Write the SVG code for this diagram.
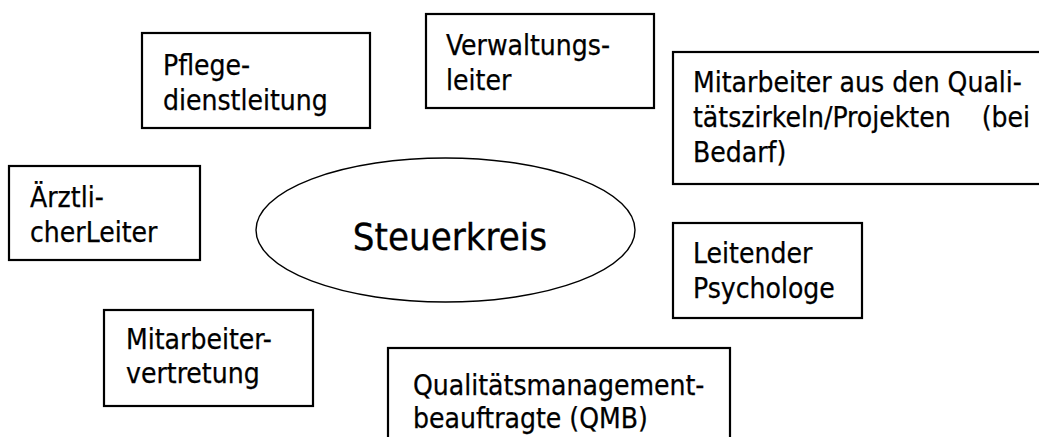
<svg xmlns="http://www.w3.org/2000/svg" width="1039" height="437" viewBox="0 0 1039 437">
<style>
.box{fill:#fff;stroke:#000;stroke-width:2.2}
.ell{fill:#fff;stroke:#000;stroke-width:1.4}
text{font-family:"DejaVu Sans Condensed","DejaVu Sans",sans-serif;font-stretch:condensed;font-size:28px;fill:#000;stroke:#000;stroke-width:0.25}
.big{font-size:38px;text-anchor:middle;stroke-width:0.3}
</style>
<rect width="1039" height="437" fill="#fff"/>
<g id="connectors"></g>
<g id="pflege">
<rect class="box" x="142" y="33" width="228" height="95"/>
<text x="163" y="75">Pflege-</text>
<text x="163" y="110">dienstleitung</text>
</g>
<g id="verwaltung">
<rect class="box" x="426" y="14" width="228" height="94"/>
<text x="446" y="55">Verwaltungs-</text>
<text x="446" y="90">leiter</text>
</g>
<g id="qualitaetszirkel">
<rect class="box" x="673" y="52" width="370" height="132"/>
<text x="693" y="92">Mitarbeiter aus den Quali-</text>
<text x="693" y="127">tätszirkeln/Projekten</text>
<text x="1030" y="127" text-anchor="end">(bei</text>
<text x="693" y="162">Bedarf)</text>
</g>
<g id="arzt">
<rect class="box" x="9" y="166" width="191" height="94"/>
<text x="30" y="207">Ärztli-</text>
<text x="30" y="242">cherLeiter</text>
</g>
<g id="steuerkreis">
<ellipse class="ell" cx="445.5" cy="230" rx="189.5" ry="72"/>
<text class="big" x="450" y="250">Steuerkreis</text>
</g>
<g id="psychologe">
<rect class="box" x="673" y="223" width="189" height="95"/>
<text x="693" y="263">Leitender</text>
<text x="693" y="298">Psychologe</text>
</g>
<g id="mitarbeitervertretung">
<rect class="box" x="104" y="310" width="209" height="96"/>
<text x="126" y="349">Mitarbeiter-</text>
<text x="126" y="383">vertretung</text>
</g>
<g id="qmb">
<rect class="box" x="388" y="348" width="342" height="100"/>
<text x="413" y="395">Qualitätsmanagement-</text>
<text x="413" y="428">beauftragte (QMB)</text>
</g>
</svg>
